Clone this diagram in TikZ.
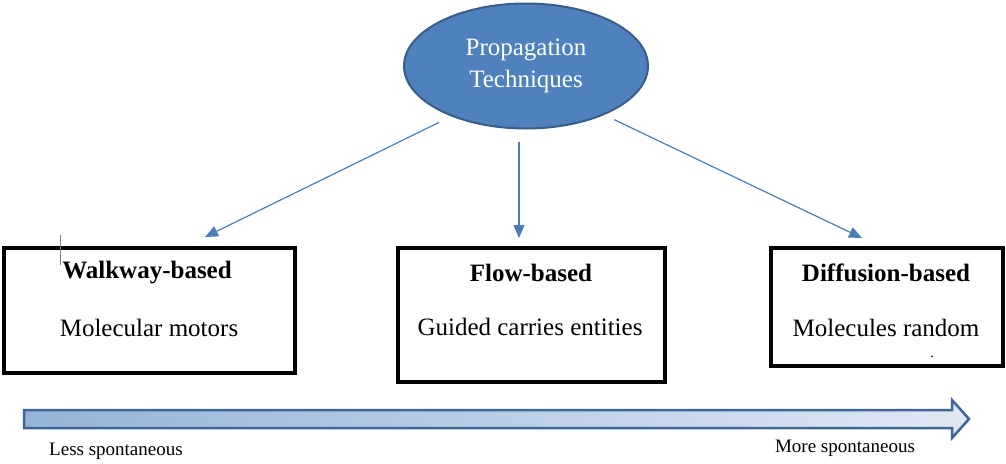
\documentclass[tikz,border=0pt]{standalone}
\usepackage{fontspec}
\setmainfont{Liberation Serif}
\usetikzlibrary{arrows.meta,shapes.geometric}

\definecolor{ellfill}{HTML}{4F81BD}
\definecolor{elledge}{HTML}{385D8A}
\definecolor{linkblue}{HTML}{4A7EBB}
\definecolor{barleft}{HTML}{95B3D7}
\definecolor{barright}{HTML}{E0E8F4}
\definecolor{baredge}{HTML}{3E6699}

\tikzset{
  topic/.style={ellipse, draw=elledge, line width=2pt, fill=ellfill,
    minimum width=244pt, minimum height=125pt, inner sep=0pt,
    text=white, align=center, font=\fontsize{25}{32}\selectfont},
  catbox/.style={draw=black, line width=3.5pt, rectangle, inner sep=0pt},
  cattitle/.style={font=\fontsize{25}{30}\selectfont\bfseries, inner sep=0pt},
  catsub/.style={font=\fontsize{25}{30}\selectfont, inner sep=0pt},
  link/.style={draw=linkblue, line width=1.2pt,
    -{Triangle[length=13pt,width=11pt]}},
  scalelabel/.style={font=\fontsize{19}{22}\selectfont, inner sep=0pt},
}

\begin{document}
\begin{tikzpicture}[x=1pt,y=-1pt]
  % canvas
  \useasboundingbox (0,0) rectangle (1006,463);

  % root concept
  \node[topic] (ell) at (526,66) {Propagation\\Techniques};

  % categories
  \node[catbox, minimum width=291pt, minimum height=125pt] (wb) at (149.5,310.5) {};
  \node[catbox, minimum width=267pt, minimum height=134pt] (fb) at (531.5,315) {};
  \node[catbox, minimum width=232pt, minimum height=118pt] (db) at (887,307) {};

  \node[cattitle] (wbT) at (147,273) {Walkway-based};
  \node[catsub]   (wbS) at (149,328) {Molecular motors};
  \node[cattitle] (fbT) at (531,273) {Flow-based};
  \node[catsub]   (fbS) at (530,327) {Guided carries entities};
  \node[cattitle] (dbT) at (886,273) {Diffusion-based};
  \node[catsub]   (dbS) at (886,328) {Molecules random};
  \node[inner sep=0pt] (dot) at (932,357) {\fontsize{14}{14}\selectfont .};

  % stray text cursor mark
  \draw[gray, line width=0.8pt] (60,235) -- (60,265);

  % arrow tips above the boxes
  \coordinate (tipL) at (205,237);
  \coordinate (tipM) at (519,238);
  \coordinate (tipR) at (862,238);

  % connectors
  \draw[link, shorten <=14pt] (ell.214) -- (tipL);
  \draw[link, shorten <=12pt] (ell.south -| tipM) -- (tipM);
  \draw[link, shorten <=11pt] (ell.328) -- (tipR);

  % spontaneity scale
  \path[draw=baredge, line width=2.5pt, line join=miter,
        left color=barleft, right color=barright]
    (24,410) -- (952,410) -- (952,400) -- (969,419) -- (952,438)
    -- (952,428) -- (24,428) -- cycle;

  \node[scalelabel] (less) at (116,451) {Less spontaneous};
  \node[scalelabel] (more) at (845,448) {More spontaneous};
\end{tikzpicture}
\end{document}
